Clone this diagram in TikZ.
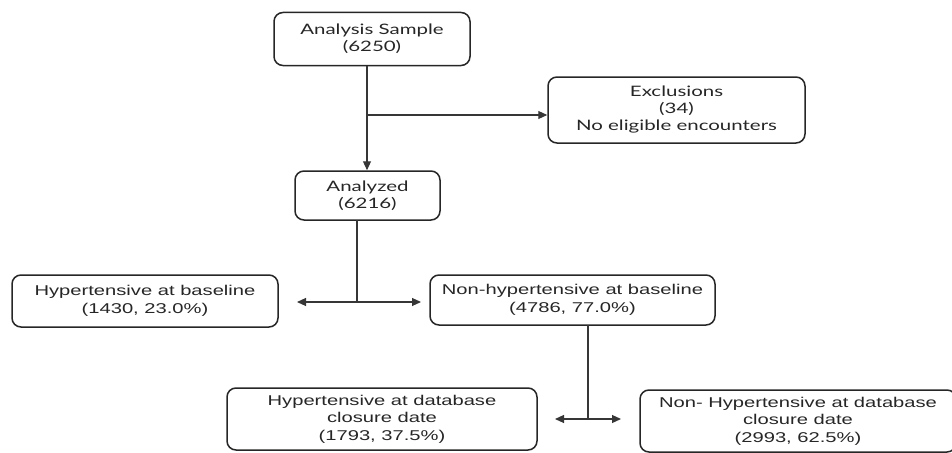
\documentclass[tikz,border=0pt]{standalone}
\usepackage{fontspec}
\usetikzlibrary{arrows.meta}
\newfontfamily\lowfont[FakeStretch=1.42]{Liberation Sans}
\newfontfamily\upfont[FakeStretch=1.42]{Lato}
\definecolor{ink}{HTML}{262626}
\definecolor{wire}{HTML}{363636}
\tikzset{
  x=1pt, y=-1pt,
  flowbox/.style={draw=ink, line width=1.5pt, rounded corners=9pt, inner sep=0pt,
    align=center, text=ink},
  upbox/.style={flowbox, font=\upfont\fontsize{14.4}{17}\selectfont},
  lowbox/.style={flowbox, font=\lowfont\fontsize{14.2}{17.5}\selectfont},
  link/.style={draw=wire, line width=1.1pt},
  arr/.style={link, -{Triangle[length=9pt,width=8pt]}}
}
\begin{document}
\begin{tikzpicture}
\useasboundingbox (0,0) rectangle (952,452);
% boxes
\node[upbox, minimum width=196pt, minimum height=53pt] (sample) at (372,39) {Analysis Sample\\(6250)};
\node[upbox, minimum width=257pt, minimum height=66pt] (excl) at (676.5,110) {Exclusions\\(34)\\No eligible encounters};
\node[upbox, minimum width=145pt, minimum height=49pt] (anal) at (367.5,195.5) {Analyzed\\(6216)};
\node[lowbox, minimum width=266pt, minimum height=52pt] (hyp) at (145,301) {Hypertensive at baseline\\(1430, 23.0\%)};
\node[lowbox, minimum width=285pt, minimum height=50pt] (nonhyp) at (572.5,300) {Non-hypertensive at baseline\\(4786, 77.0\%)};
\node[lowbox, minimum width=310pt, minimum height=62pt] (hypdb) at (382,419) {Hypertensive at database\\closure date\\(1793, 37.5\%)};
\node[lowbox, minimum width=316pt, minimum height=62pt] (nonhypdb) at (798,421) {Non- Hypertensive at database\\closure date\\(2993, 62.5\%)};
% connectors
\coordinate (s1) at (367,65.5);
\coordinate (b1) at (367,115);
\draw[arr] (s1) -- (anal.north -| s1);
\draw[arr] (b1) -- (excl.west |- b1);
\coordinate (a1) at (357,220);
\coordinate (j2) at (357,302);
\coordinate (t2l) at (297,302);
\coordinate (t2r) at (421,302);
\draw[link] (a1) -- (j2);
\draw[arr] (j2) -- (t2l);
\draw[arr] (j2) -- (t2r);
\coordinate (n1) at (588,325);
\coordinate (j3) at (588,419);
\coordinate (t3l) at (555,419);
\coordinate (t3r) at (621,419);
\draw[link] (n1) -- (j3);
\draw[arr] (j3) -- (t3l);
\draw[arr] (j3) -- (t3r);
\end{tikzpicture}
\end{document}
